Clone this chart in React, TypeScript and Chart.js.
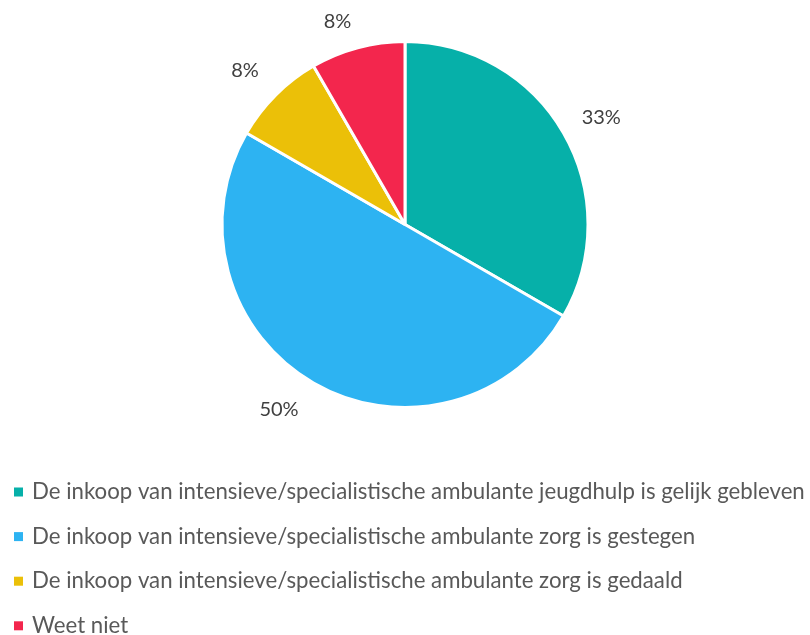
import React, { useEffect, useRef } from "react";
import { Chart, registerables } from "chart.js";

Chart.register(...registerables);

const categories = [
  "De inkoop van intensieve/specialistische ambulante jeugdhulp is gelijk gebleven",
  "De inkoop van intensieve/specialistische ambulante zorg is gestegen",
  "De inkoop van intensieve/specialistische ambulante zorg is gedaald",
  "Weet niet",
];
const values = [4, 6, 1, 1];
const percentLabels = ["33%", "50%", "8%", "8%"];
const colors = ["#06B0A9", "#2DB3F2", "#EBC008", "#F3264D"];

const FONT = "Lato, 'Open Sans', sans-serif";
// small label nudges (Excel-like best-fit placement)
const labelNudge: [number, number][] = [
  [4, 4],
  [-15, -7],
  [-3, 3],
  [-10, 11],
];

const outsideLabels = {
  id: "outsideLabels",
  afterDatasetsDraw(chart: any) {
    const ctx = chart.ctx;
    const meta = chart.getDatasetMeta(0);
    ctx.save();
    ctx.font = `20px ${FONT}`;
    ctx.fillStyle = "#404040";
    ctx.textAlign = "center";
    ctx.textBaseline = "middle";
    meta.data.forEach((arc: any, i: number) => {
      const mid = (arc.startAngle + arc.endAngle) / 2;
      const r = 222;
      const x = arc.x + Math.cos(mid) * r + labelNudge[i][0];
      const y = arc.y + Math.sin(mid) * r + labelNudge[i][1];
      ctx.fillText(percentLabels[i], x, y);
    });
    ctx.restore();
  },
};

const customLegend = {
  id: "customLegend",
  afterDraw(chart: any) {
    const ctx = chart.ctx;
    ctx.save();
    const baseSize = 20;
    ctx.font = `${baseSize}px ${FONT}`;
    const w = ctx.measureText(categories[0]).width;
    const size = Math.min(22.3, (baseSize * 773) / w);
    ctx.font = `${size}px ${FONT}`;
    ctx.textBaseline = "middle";
    ctx.textAlign = "left";
    const startY = 492;
    const step = 44.6;
    categories.forEach((label, i) => {
      const y = startY + i * step;
      ctx.fillStyle = colors[i];
      ctx.fillRect(14, y - 4.5, 9, 9);
      ctx.fillStyle = "#595959";
      ctx.fillText(label, 32, y);
    });
    ctx.restore();
  },
};

export default function App() {
  const ref = useRef<HTMLCanvasElement>(null);
  useEffect(() => {
    document.body.style.margin = "0";
    const chart = new Chart(ref.current!, {
      type: "pie",
      data: {
        labels: categories,
        datasets: [
          {
            data: values,
            backgroundColor: colors,
            borderColor: "#ffffff",
            borderWidth: 3,
          },
        ],
      },
      options: {
        animation: false,
        responsive: false,
        maintainAspectRatio: false,
        layout: { padding: { top: 40, bottom: 226, left: 0, right: 0 } },
        plugins: {
          legend: { display: false },
          tooltip: { enabled: false },
        },
      },
      plugins: [outsideLabels, customLegend],
    });
    return () => chart.destroy();
  }, []);
  return (
    <div style={{ width: 810, height: 635 }}>
      <canvas ref={ref} width={810} height={635} style={{ display: "block" }} />
    </div>
  );
}
